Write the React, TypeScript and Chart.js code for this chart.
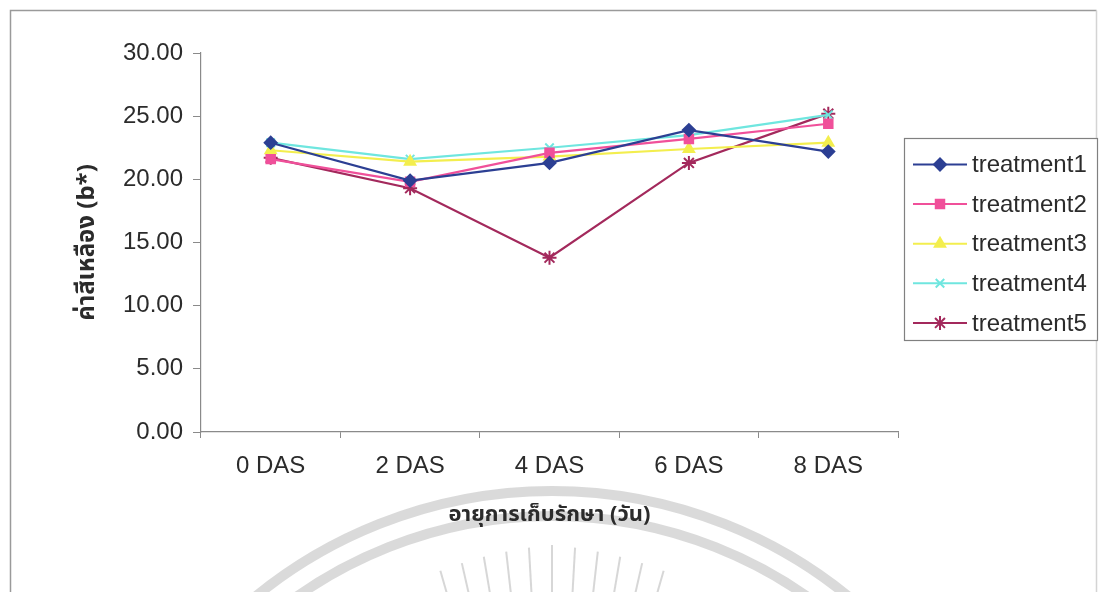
import React, { useEffect, useRef } from 'react';
import { Chart, registerables } from 'chart.js';
import { drawPoint } from 'chart.js/helpers';

Chart.register(...registerables);

// Storage age categories (days after storage)
const categories = ['0 DAS', '2 DAS', '4 DAS', '6 DAS', '8 DAS'];

// Yellowness (b*) per treatment
const treatment1 = [22.9, 19.9, 21.3, 23.9, 22.2];
const treatment2 = [21.6, 19.8, 22.1, 23.2, 24.4];
const treatment3 = [22.3, 21.4, 21.8, 22.4, 22.9];
const treatment4 = [22.9, 21.6, 22.5, 23.5, 25.1];
const treatment5 = [21.7, 19.3, 13.8, 21.3, 25.2];

const seriesNames = ['treatment1', 'treatment2', 'treatment3', 'treatment4', 'treatment5'];
const seriesValues = [treatment1, treatment2, treatment3, treatment4, treatment5];
const seriesColors = ['#2c3f93', '#f0509a', '#f3ee4e', '#6fe6df', '#a3295c'];
const seriesMarkers = ['rectRot', 'rect', 'triangle', 'crossRot', 'star'];
const seriesRadius = [6, 6, 6, 6, 7];

const yMin = 0;
const yMax = 30;
const yStep = 5;

const xTitle = 'อายุการเก็บรักษา (วัน)';
const yTitle = 'ค่าสีเหลือง (b*)';

const FONT = '"Liberation Sans", Arial, Helvetica, sans-serif';
const THAI_FONT = '"Noto Sans Thai", "Noto Sans Thai UI", "Liberation Sans", Arial, sans-serif';
const TEXT = '#2b2b2b';
const AXIS = '#8a8a8a';

// White page, faint seal in the background and the outer frame
const backdropPlugin = {
  id: 'backdrop',
  beforeDraw(chart: any) {
    const { ctx, width, height } = chart;
    ctx.save();
    ctx.fillStyle = '#ffffff';
    ctx.fillRect(0, 0, width, height);

    const cx = 552;
    const cy = 960;
    ctx.strokeStyle = 'rgba(205,205,205,0.75)';
    ctx.lineWidth = 10;
    ctx.beginPath();
    ctx.arc(cx, cy, 469, Math.PI, 2 * Math.PI);
    ctx.stroke();
    ctx.beginPath();
    ctx.arc(cx, cy, 444, Math.PI, 2 * Math.PI);
    ctx.stroke();

    ctx.lineWidth = 2;
    ctx.strokeStyle = 'rgba(205,205,205,0.8)';
    for (let i = -5; i <= 5; i++) {
      const a = -Math.PI / 2 + (i * 3.2 * Math.PI) / 180;
      const r1 = 330;
      const r2 = 415 - Math.abs(i) * 2;
      ctx.beginPath();
      ctx.moveTo(cx + r1 * Math.cos(a), cy + r1 * Math.sin(a));
      ctx.lineTo(cx + r2 * Math.cos(a), cy + r2 * Math.sin(a));
      ctx.stroke();
    }

    ctx.lineWidth = 1.5;
    ctx.strokeStyle = '#9a9a9a';
    ctx.beginPath();
    ctx.moveTo(10.5, height + 2);
    ctx.lineTo(10.5, 10.5);
    ctx.lineTo(1096.5, 10.5);
    ctx.stroke();
    ctx.strokeStyle = '#d4d4d4';
    ctx.beginPath();
    ctx.moveTo(1096.5, 10.5);
    ctx.lineTo(1096.5, height + 2);
    ctx.stroke();
    ctx.restore();
  },
};

// Boxed legend to the right of the plot
const legendBoxPlugin = {
  id: 'legendBox',
  afterDraw(chart: any) {
    const { ctx } = chart;
    const box = { x: 904.5, y: 138.5, w: 193, h: 202 };
    ctx.save();
    ctx.fillStyle = '#ffffff';
    ctx.fillRect(box.x, box.y, box.w, box.h);
    ctx.strokeStyle = '#808080';
    ctx.lineWidth = 1.2;
    ctx.strokeRect(box.x, box.y, box.w, box.h);

    chart.data.datasets.forEach((ds: any, i: number) => {
      const y = 164.5 + i * 39.6;
      ctx.strokeStyle = ds.borderColor;
      ctx.lineWidth = 2;
      ctx.beginPath();
      ctx.moveTo(913, y);
      ctx.lineTo(967, y);
      ctx.stroke();
      ctx.fillStyle = ds.backgroundColor;
      ctx.strokeStyle = ds.borderColor;
      ctx.lineWidth = ds.pointBorderWidth;
      drawPoint(ctx, { pointStyle: ds.pointStyle, rotation: 0, radius: ds.pointRadius, borderWidth: ds.pointBorderWidth }, 940, y);
      ctx.fillStyle = TEXT;
      ctx.font = `24px ${FONT}`;
      ctx.textAlign = 'left';
      ctx.textBaseline = 'middle';
      ctx.fillText(ds.label, 972, y + 1);
    });
    ctx.restore();
  },
};

export default function App() {
  const canvasRef = useRef<HTMLCanvasElement | null>(null);

  useEffect(() => {
    const canvas = canvasRef.current;
    if (!canvas) return;
    const chart = new Chart(canvas, {
      type: 'line',
      data: {
        labels: categories,
        datasets: seriesValues.map((values, i) => ({
          label: seriesNames[i],
          data: values,
          borderColor: seriesColors[i],
          backgroundColor: seriesColors[i],
          borderWidth: 2.2,
          pointStyle: seriesMarkers[i],
          pointRadius: seriesRadius[i],
          pointBorderWidth: 2,
          pointBackgroundColor: seriesColors[i],
          tension: 0,
          fill: false,
        })),
      },
      options: {
        responsive: false,
        animation: false,
        events: [],
        layout: { padding: { left: 0, top: 53, right: 201, bottom: 0 } },
        plugins: {
          legend: { display: false },
          tooltip: { enabled: false },
          title: { display: false },
        },
        scales: {
          x: {
            type: 'category',
            offset: true,
            grid: { offset: true, drawOnChartArea: false, tickLength: 6, color: AXIS },
            border: { color: AXIS, width: 1.2 },
            ticks: { color: TEXT, font: { family: FONT, size: 24 }, padding: 14, maxRotation: 0 },
            title: {
              display: true,
              text: xTitle,
              color: TEXT,
              font: { family: THAI_FONT, size: 22, weight: 'bold' },
              padding: { top: 0, bottom: 62 },
            },
            afterFit(scale: any) {
              scale.height = 160;
            },
          },
          y: {
            min: yMin,
            max: yMax,
            grid: { drawOnChartArea: false, tickLength: 8, color: AXIS },
            border: { color: AXIS, width: 1.2 },
            ticks: {
              stepSize: yStep,
              color: TEXT,
              font: { family: FONT, size: 24 },
              padding: 10,
              callback: (v: any) => Number(v).toFixed(2),
            },
            title: {
              display: true,
              text: yTitle,
              color: TEXT,
              font: { family: THAI_FONT, size: 24, weight: 'bold' },
              padding: { top: 75, bottom: 0 },
            },
            afterFit(scale: any) {
              scale.width = 201;
            },
          },
        },
      },
      plugins: [backdropPlugin, legendBoxPlugin],
    } as any);
    return () => chart.destroy();
  }, []);

  return (
    <div style={{ position: 'absolute', left: 0, top: 0, width: 1099, height: 592, background: '#fff' }}>
      <canvas ref={canvasRef} width={1099} height={592} style={{ display: 'block' }} />
    </div>
  );
}
